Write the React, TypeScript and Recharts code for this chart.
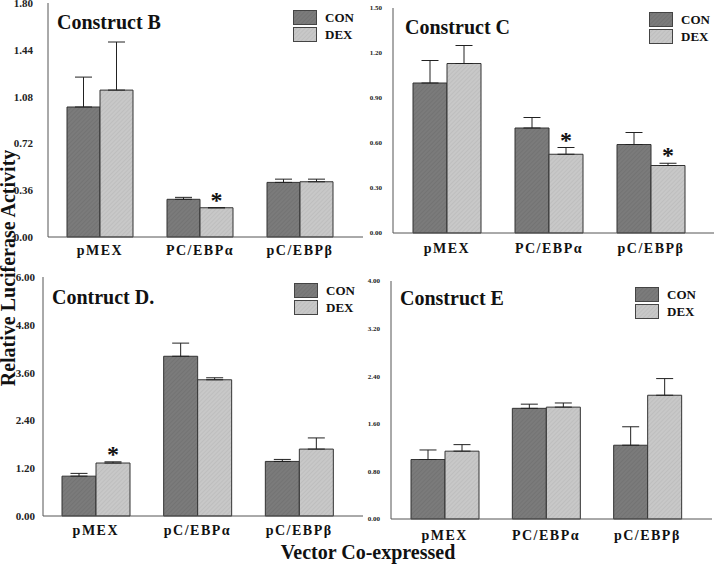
import React from "react";
import {
  Bar,
  BarChart,
  ErrorBar,
  LabelList,
  Legend,
  XAxis,
  YAxis,
} from "recharts";

const SERIF = "'Times New Roman', 'Liberation Serif', serif";

// Construct B
const catsB = ["pMEX", "PC/EBPα", "pC/EBPβ"];
const conB = [1.0, 0.29, 0.42];
const conErrB = [0.23, 0.015, 0.025];
const dexB = [1.13, 0.225, 0.425];
const dexErrB = [0.37, 0, 0.02];
const starB = [false, true, false];
const ticksB = [0, 0.36, 0.72, 1.08, 1.44, 1.8];

// Construct C
const catsC = ["pMEX", "PC/EBPα", "pC/EBPβ"];
const conC = [1.0, 0.7, 0.59];
const conErrC = [0.15, 0.07, 0.08];
const dexC = [1.13, 0.525, 0.45];
const dexErrC = [0.12, 0.045, 0.015];
const starC = [false, true, true];
const ticksC = [0, 0.3, 0.6, 0.9, 1.2, 1.5];

// Contruct D.
const catsD = ["pMEX", "pC/EBPα", "pC/EBPβ"];
const conD = [1.0, 4.01, 1.37];
const conErrD = [0.07, 0.33, 0.05];
const dexD = [1.33, 3.42, 1.68];
const dexErrD = [0.03, 0.05, 0.28];
const starD = [true, false, false];
const ticksD = [0, 1.2, 2.4, 3.6, 4.8, 6.0];

// Construct E
const catsE = ["pMEX", "PC/EBPα", "pC/EBPβ"];
const conE = [1.0, 1.86, 1.24];
const conErrE = [0.16, 0.07, 0.31];
const dexE = [1.14, 1.88, 2.08];
const dexErrE = [0.11, 0.07, 0.28];
const starE = [false, false, false];
const ticksE = [0, 0.8, 1.6, 2.4, 3.2, 4.0];

type Row = {
  name: string;
  con: number;
  dex: number;
  conErr: number[];
  dexErr: number[];
  dexStar: boolean;
};

const buildRows = (
  cats: string[],
  con: number[],
  conErr: number[],
  dex: number[],
  dexErr: number[],
  star: boolean[]
): Row[] =>
  cats.map((name, i) => ({
    name,
    con: con[i],
    dex: dex[i],
    conErr: [0, conErr[i]],
    dexErr: [0, dexErr[i]],
    dexStar: star[i],
  }));

const XTick = ({ x, y, payload }: any) => (
  <text
    x={x}
    y={y}
    dy="0.71em"
    textAnchor="middle"
    fontFamily={SERIF}
    fontWeight="bold"
    fontSize={14}
    fill="#111"
    style={{ letterSpacing: "1.5px" }}
  >
    {payload.value}
  </text>
);

type PanelProps = {
  id: string;
  title: string;
  titlePos: { left: number; top: number };
  rows: Row[];
  box: { left: number; top: number; width: number; height: number };
  margin: { top: number; right: number; left: number; bottom: number };
  yWidth: number;
  ticks: number[];
  padding: { left: number; right: number };
  yFont: number;
  yGap: number;
  xGap: number;
  legendPos: { left: number; top: number };
  rightFrame?: boolean;
};

const FRAME = "#555";

const Panel = ({
  id,
  title,
  titlePos,
  rows,
  box,
  margin,
  yWidth,
  ticks,
  padding,
  yFont,
  yGap,
  xGap,
  legendPos,
  rightFrame = true,
}: PanelProps) => {
  const conFill = `url(#con-${id})`;
  const dexFill = `url(#dex-${id})`;

  // significance star sits just above the DEX error bar
  const renderStar = (p: any) => {
    const row = rows[p.index];
    if (!row || !row.dexStar) return null;
    const pxPerUnit = p.height / row.dex;
    const errTop = p.y - row.dexErr[1] * pxPerUnit;
    return (
      <text
        key={`star-${p.index}`}
        x={p.x + p.width / 2}
        y={errTop}
        textAnchor="middle"
        fontFamily={SERIF}
        fontWeight="bold"
        fontSize={24}
        fill="#111"
      >
        *
      </text>
    );
  };

  const renderLegend = (props: any) => (
    <div>
      {props.payload.map((entry: any) => (
        <div
          key={entry.value}
          style={{ display: "flex", alignItems: "center", height: 17 }}
        >
          <svg width={24} height={15}>
            <rect
              x={0.5}
              y={0.5}
              width={23}
              height={14}
              fill={entry.dataKey === "con" ? conFill : dexFill}
              stroke="#444"
            />
          </svg>
          <span
            style={{
              marginLeft: 8,
              fontFamily: SERIF,
              fontWeight: "bold",
              fontSize: 13,
              color: "#111",
            }}
          >
            {entry.value}
          </span>
        </div>
      ))}
    </div>
  );

  return (
    <div style={{ position: "absolute", ...box }}>
      <BarChart
        width={box.width}
        height={box.height}
        data={rows}
        margin={margin}
        barCategoryGap={17}
        barGap={0}
      >
        <defs>
          <pattern
            id={`con-${id}`}
            width={3}
            height={3}
            patternUnits="userSpaceOnUse"
            patternTransform="rotate(45)"
          >
            <rect width={3} height={3} fill="#7b7b7b" />
            <line x1={0} y1={0} x2={0} y2={3} stroke="#6a6a6a" strokeWidth={1} />
          </pattern>
          <pattern
            id={`dex-${id}`}
            width={3}
            height={3}
            patternUnits="userSpaceOnUse"
            patternTransform="rotate(45)"
          >
            <rect width={3} height={3} fill="#c8c8c8" />
            <line x1={0} y1={0} x2={0} y2={3} stroke="#b4b4b4" strokeWidth={1} />
          </pattern>
        </defs>
        <XAxis
          dataKey="name"
          padding={padding}
          axisLine={{ stroke: FRAME }}
          tickLine={false}
          tickSize={0}
          tickMargin={xGap}
          height={30}
          tick={<XTick />}
          interval={0}
        />
        <XAxis
          xAxisId="top"
          orientation="top"
          dataKey="name"
          height={0}
          tick={false}
          tickLine={false}
          axisLine={{ stroke: FRAME }}
        />
        <YAxis
          width={yWidth}
          domain={[ticks[0], ticks[ticks.length - 1]]}
          ticks={ticks}
          interval={0}
          axisLine={{ stroke: FRAME }}
          tickLine={false}
          tickSize={0}
          tickMargin={yGap}
          tickFormatter={(v: number) => v.toFixed(2)}
          tick={{
            fontSize: yFont,
            fontWeight: "bold",
            fontFamily: SERIF,
            fill: "#222",
          }}
        />
        {rightFrame && (
          <YAxis
            yAxisId="right"
            orientation="right"
            width={0}
            tick={false}
            tickLine={false}
            axisLine={{ stroke: FRAME }}
          />
        )}
        <Legend
          layout="vertical"
          align="center"
          verticalAlign="middle"
          wrapperStyle={{ left: legendPos.left, top: legendPos.top, width: 80 }}
          content={renderLegend}
        />
        <Bar
          dataKey="con"
          name="CON"
          fill={conFill}
          stroke="#333"
          strokeWidth={1}
          isAnimationActive={false}
        >
          <ErrorBar dataKey="conErr" width={8.5} stroke="#222" strokeWidth={1} />
        </Bar>
        <Bar
          dataKey="dex"
          name="DEX"
          fill={dexFill}
          stroke="#333"
          strokeWidth={1}
          isAnimationActive={false}
        >
          <ErrorBar dataKey="dexErr" width={8.5} stroke="#222" strokeWidth={1} />
          <LabelList dataKey="dexStar" content={renderStar} />
        </Bar>
      </BarChart>
      <div
        style={{
          position: "absolute",
          left: titlePos.left - box.left,
          top: titlePos.top - box.top,
          fontFamily: SERIF,
          fontWeight: "bold",
          fontSize: 20,
          lineHeight: 1,
          color: "#111",
          whiteSpace: "nowrap",
        }}
      >
        {title}
      </div>
    </div>
  );
};

export default function App() {
  const rowsB = buildRows(catsB, conB, conErrB, dexB, dexErrB, starB);
  const rowsC = buildRows(catsC, conC, conErrC, dexC, dexErrC, starC);
  const rowsD = buildRows(catsD, conD, conErrD, dexD, dexErrD, starD);
  const rowsE = buildRows(catsE, conE, conErrE, dexE, dexErrE, starE);

  return (
    <div
      style={{
        position: "absolute",
        left: 0,
        top: 0,
        width: 714,
        height: 566,
        background: "#fff",
        overflow: "hidden",
      }}
    >
      <Panel
        id="b"
        title="Construct B"
        titlePos={{ left: 57, top: 12 }}
        rows={rowsB}
        box={{ left: 0, top: 0, width: 366, height: 267 }}
        margin={{ top: 3, right: 3, left: 0, bottom: 0 }}
        yWidth={48}
        ticks={ticksB}
        padding={{ left: 2, right: 13 }}
        yFont={11}
        yGap={15}
        xGap={8}
        legendPos={{ left: 293, top: 9 }}
      />
      <Panel
        id="c"
        title="Construct C"
        titlePos={{ left: 405, top: 17 }}
        rows={rowsC}
        box={{ left: 350, top: 0, width: 364, height: 263 }}
        margin={{ top: 8, right: 0, left: 0, bottom: 0 }}
        yWidth={43}
        ticks={ticksC}
        padding={{ left: 3, right: 12 }}
        yFont={7}
        yGap={11}
        xGap={10}
        legendPos={{ left: 299, top: 11 }}
        rightFrame={false}
      />
      <Panel
        id="d"
        title="Contruct D."
        titlePos={{ left: 52, top: 287 }}
        rows={rowsD}
        box={{ left: 0, top: 270, width: 366, height: 276 }}
        margin={{ top: 7, right: 3, left: 0, bottom: 0 }}
        yWidth={43}
        ticks={ticksD}
        padding={{ left: 2, right: 13 }}
        yFont={11}
        yGap={8}
        xGap={9}
        legendPos={{ left: 294, top: 12 }}
      />
      <Panel
        id="e"
        title="Construct E"
        titlePos={{ left: 400, top: 288 }}
        rows={rowsE}
        box={{ left: 350, top: 274, width: 364, height: 275 }}
        margin={{ top: 7, right: 2, left: 0, bottom: 0 }}
        yWidth={41}
        ticks={ticksE}
        padding={{ left: 3, right: 14 }}
        yFont={7}
        yGap={11}
        xGap={11}
        legendPos={{ left: 285, top: 12 }}
      />
      <div
        style={{
          position: "absolute",
          left: 8 - 130,
          top: 268 - 8,
          width: 260,
          height: 16,
          lineHeight: "16px",
          textAlign: "center",
          transform: "rotate(-90deg)",
          fontFamily: SERIF,
          fontWeight: "bold",
          fontSize: 20,
          color: "#111",
          whiteSpace: "nowrap",
        }}
      >
        Relative Luciferase Activity
      </div>
      <div
        style={{
          position: "absolute",
          left: 368 - 150,
          top: 542,
          width: 300,
          textAlign: "center",
          fontFamily: SERIF,
          fontWeight: "bold",
          fontSize: 20,
          lineHeight: 1,
          color: "#111",
          whiteSpace: "nowrap",
        }}
      >
        Vector Co-expressed
      </div>
    </div>
  );
}
